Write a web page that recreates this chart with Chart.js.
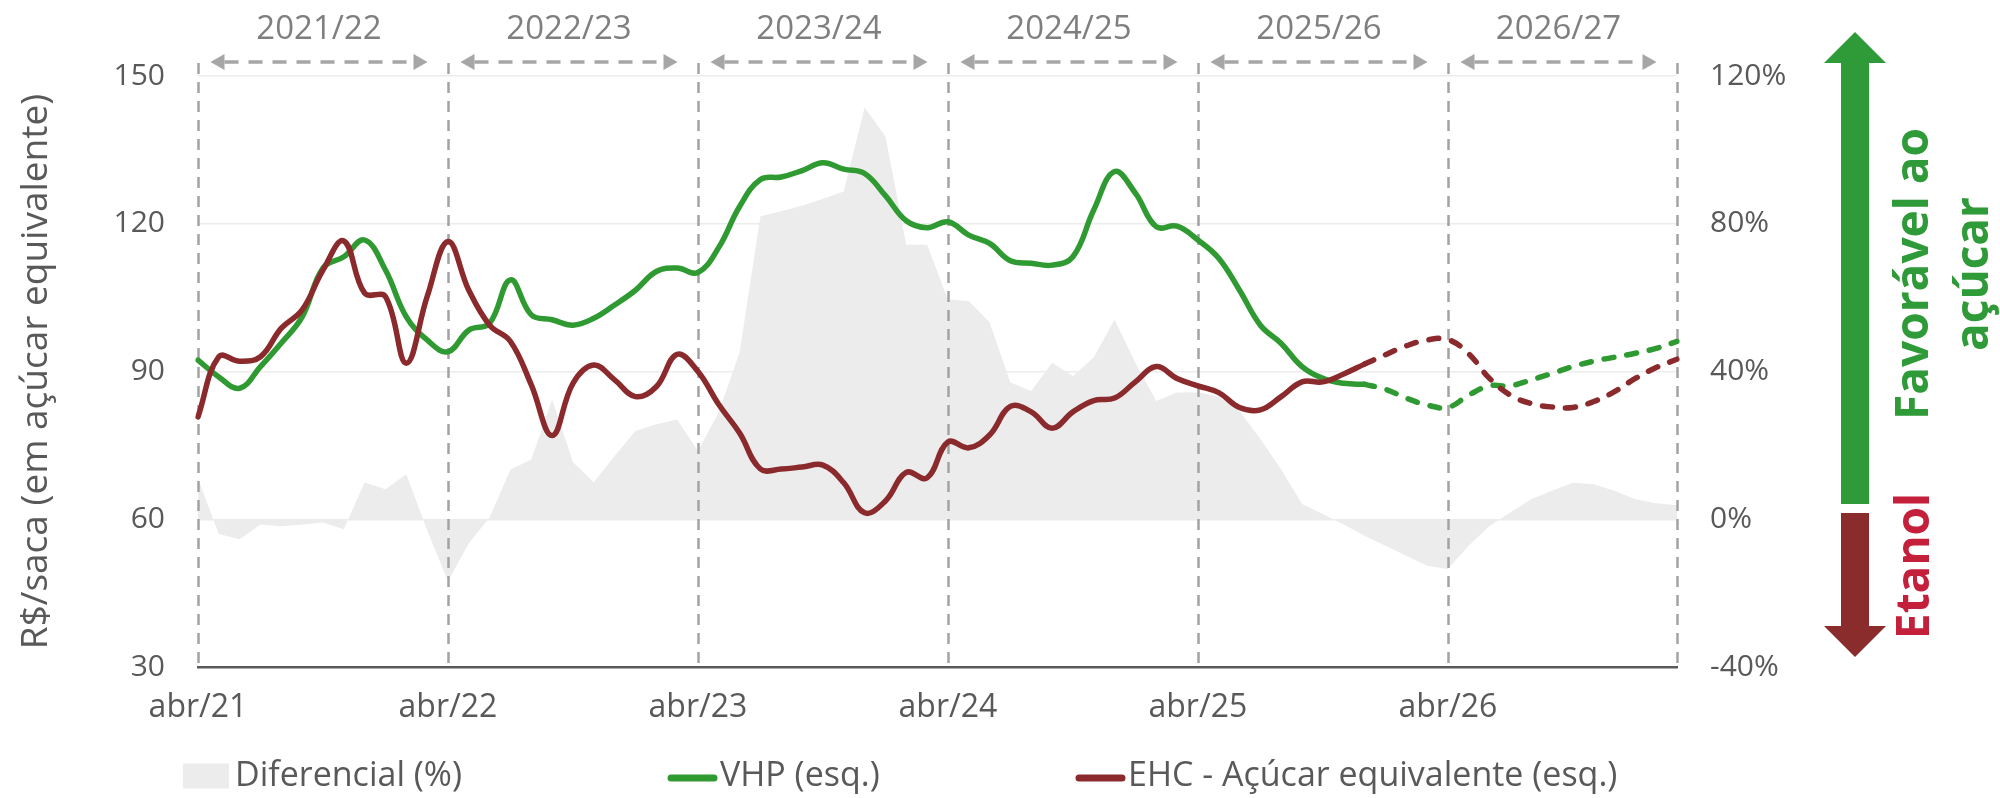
<!DOCTYPE html>
<html lang="pt-BR">
<head>
<meta charset="utf-8">
<title>VHP x EHC - Açúcar equivalente</title>
<script src="https://cdn.jsdelivr.net/npm/chart.js@4.4.1/dist/chart.umd.min.js"></script>
<style>
html,body{margin:0;padding:0;background:#fff;}
#wrap{width:2000px;height:798px;position:relative;}
canvas{display:block;}
</style>
</head>
<body>
<div id="wrap"><canvas id="c" width="2000" height="798"></canvas></div>
<script>
// ---------- data ----------
const xLabels = [
  'abr/21','mai/21','jun/21','jul/21','ago/21','set/21','out/21','nov/21','dez/21','jan/22','fev/22','mar/22',
  'abr/22','mai/22','jun/22','jul/22','ago/22','set/22','out/22','nov/22','dez/22','jan/23','fev/23','mar/23',
  'abr/23','mai/23','jun/23','jul/23','ago/23','set/23','out/23','nov/23','dez/23','jan/24','fev/24','mar/24',
  'abr/24','mai/24','jun/24','jul/24','ago/24','set/24','out/24','nov/24','dez/24','jan/25','fev/25','mar/25',
  'abr/25','mai/25','jun/25','jul/25','ago/25','set/25','out/25','nov/25','dez/25','jan/26','fev/26','mar/26',
  'abr/26','mai/26','jun/26','jul/26','ago/26','set/26','out/26','nov/26','dez/26','jan/27','fev/27','mar/27'
];
const shownTicks = ['abr/21','abr/22','abr/23','abr/24','abr/25','abr/26'];
const leftTicks = [30, 60, 90, 120, 150];
const rightTicks = [-40, 0, 40, 80, 120];
const seasons = ['2021/22','2022/23','2023/24','2024/25','2025/26','2026/27'];
const seasonBounds = ['abr/21','abr/22','abr/23','abr/24','abr/25','abr/26','mar/27'];
const projectionFrom = 'dez/25';

const vhp = [
  92.3, 88.9, 86.6, 91.0, 95.8, 101.1, 111.0, 113.3, 116.7, 110.6, 101.1, 96.4,
  94.0, 98.4, 99.8, 108.6, 101.5, 100.5, 99.4, 100.8, 103.5, 106.5, 110.3, 111.0,
  110.1, 115.2, 123.5, 129.0, 129.5, 130.8, 132.4, 131.1, 130.2, 125.7, 120.6, 119.2,
  120.4, 117.7, 116.0, 112.5, 112.0, 111.6, 113.3, 122.8, 130.6, 126.2, 119.4, 119.5,
  116.7, 113.0, 106.5, 99.4, 95.7, 91.0, 88.6, 87.6, 87.4, 86.4, 84.6, 83.2,
  82.7, 85.2, 87.1, 87.1, 88.3, 89.6, 91.0, 92.1, 92.9, 93.7, 94.7, 96.1
];
const ehc = [
  80.8, 93.0, 92.1, 93.0, 98.8, 102.5, 110.6, 116.5, 105.9, 105.2, 91.7, 105.2,
  116.4, 106.5, 99.4, 96.1, 87.3, 77.0, 87.6, 91.3, 88.3, 84.9, 86.9, 93.5,
  90.0, 83.3, 77.5, 70.2, 70.2, 70.6, 71.0, 67.4, 61.3, 63.7, 69.5, 68.4,
  75.7, 74.5, 77.1, 82.9, 81.8, 78.5, 81.8, 84.1, 84.6, 87.9, 91.0, 88.6,
  87.1, 85.7, 82.7, 82.2, 84.9, 87.9, 87.9, 89.5, 91.5, 93.4, 95.2, 96.4,
  96.5, 93.6, 88.6, 85.2, 83.5, 82.8, 82.7, 83.9, 85.9, 88.6, 90.8, 92.5
];
const diferencial = [
  11.0, -4.0, -5.4, -1.4, -1.9, -1.4, -0.9, -2.7, 10.0, 8.1, 12.2, -3.0,
  -16.8, -6.5, 0.5, 13.5, 16.2, 32.5, 15.4, 10.0, 17.1, 23.9, 25.7, 27.0,
  18.5, 29.0, 45.2, 82.0, 83.4, 84.9, 86.8, 88.7, 111.5, 103.7, 74.3, 74.3,
  59.5, 59.1, 53.3, 37.0, 34.7, 42.4, 38.8, 43.8, 54.1, 42.4, 32.0, 34.3,
  34.4, 33.2, 29.3, 21.7, 13.5, 4.1, 1.4, -1.4, -4.5, -7.2, -9.9, -12.6,
  -13.5, -7.2, -1.8, 1.8, 5.4, 7.7, 9.9, 9.5, 7.7, 5.4, 4.3, 3.8
];

// ---------- styling ----------
const GREEN = '#2f9a32';
const RED = '#8b2a2c';
const AREA = '#ececec';
const TXT = '#595959';
const FONT = "'Open Sans', 'DejaVu Sans', sans-serif";
Chart.defaults.font.family = FONT;
Chart.defaults.color = TXT;

const pIdx = xLabels.indexOf(projectionFrom);
const actual = arr => arr.map((v, i) => (i <= pIdx ? v : null));
const projected = arr => arr.map((v, i) => (i >= pIdx ? v : null));

const lineBase = {
  borderWidth: 5.5, tension: 0.4, pointRadius: 0, pointHoverRadius: 0,
  borderCapStyle: 'round', borderJoinStyle: 'round', fill: false, yAxisID: 'y'
};

// ---------- plugins ----------
const yearLines = {
  id: 'yearLines',
  afterDatasetDraw(chart, args, o) {
    if (args.index !== o.afterIndex) return;
    const { ctx, chartArea, scales: { x } } = chart;
    const px = seasonBounds.map(l => Math.round(x.getPixelForValue(xLabels.indexOf(l))) + 0.5);
    ctx.save();
    ctx.strokeStyle = o.color; ctx.lineWidth = 2.5; ctx.setLineDash([11, 8]);
    px.forEach(p => { ctx.beginPath(); ctx.moveTo(p, o.top); ctx.lineTo(p, chartArea.bottom); ctx.stroke(); });
    seasons.forEach((s, i) => {
      const a = px[i] + 12, b = px[i + 1] - 21, y = o.arrowY;
      ctx.strokeStyle = o.arrowColor; ctx.fillStyle = o.arrowColor;
      ctx.lineWidth = 3.5; ctx.setLineDash([14, 10]);
      ctx.beginPath(); ctx.moveTo(a + 14, y); ctx.lineTo(b - 14, y); ctx.stroke();
      ctx.setLineDash([]);
      ctx.beginPath(); ctx.moveTo(a, y); ctx.lineTo(a + 14, y - 8); ctx.lineTo(a + 14, y + 8); ctx.closePath(); ctx.fill();
      ctx.beginPath(); ctx.moveTo(b, y); ctx.lineTo(b - 14, y - 8); ctx.lineTo(b - 14, y + 8); ctx.closePath(); ctx.fill();
      ctx.fillStyle = o.labelColor; ctx.font = '33px ' + FONT;
      ctx.textAlign = 'center'; ctx.textBaseline = 'middle';
      ctx.fillText(s, (a + b) / 2, o.labelY);
    });
    ctx.restore();
  }
};

const bottomLegend = {
  id: 'bottomLegend',
  afterDraw(chart, args, o) {
    const ctx = chart.ctx;
    ctx.save();
    ctx.font = o.size + 'px ' + FONT;
    ctx.textBaseline = 'middle'; ctx.textAlign = 'left';
    o.items.forEach(it => {
      const ds = chart.data.datasets[it.dataset];
      if (it.icon === 'box') {
        ctx.fillStyle = ds.backgroundColor;
        ctx.fillRect(it.x, o.y - 12.5, 46, 25);
      } else {
        ctx.strokeStyle = ds.borderColor; ctx.lineWidth = 7; ctx.lineCap = 'round';
        ctx.beginPath(); ctx.moveTo(it.x + 3, o.y + 2); ctx.lineTo(it.x + 46, o.y + 2); ctx.stroke();
      }
      ctx.fillStyle = TXT;
      ctx.fillText(ds.label, it.x + 52, o.y);
    });
    ctx.restore();
  }
};

const sideNote = {
  id: 'sideNote',
  afterDraw(chart, args, o) {
    const ctx = chart.ctx;
    ctx.save();
    ctx.fillStyle = o.green;
    ctx.fillRect(1841, 60, 28, 444);
    ctx.beginPath(); ctx.moveTo(1824, 63); ctx.lineTo(1886, 63); ctx.lineTo(1855, 32); ctx.closePath(); ctx.fill();
    ctx.fillStyle = o.red;
    ctx.fillRect(1841, 513, 28, 116);
    ctx.beginPath(); ctx.moveTo(1824, 626); ctx.lineTo(1886, 626); ctx.lineTo(1855, 657); ctx.closePath(); ctx.fill();
    ctx.font = 'bold 46px ' + FONT;
    ctx.textAlign = 'center'; ctx.textBaseline = 'middle';
    const rot = (t, x, y, c) => { ctx.save(); ctx.translate(x, y); ctx.rotate(-Math.PI / 2); ctx.fillStyle = c; ctx.fillText(t, 0, 0); ctx.restore(); };
    rot(o.top1, 1915, 274, o.green);
    rot(o.top2, 1975, 274, o.green);
    rot(o.bottom, 1916, 566, o.textRed);
    ctx.restore();
  }
};

// ---------- chart ----------
new Chart(document.getElementById('c'), {
  type: 'line',
  data: {
    labels: xLabels,
    datasets: [
      Object.assign({}, lineBase, { label: 'VHP (esq.)', data: actual(vhp), borderColor: GREEN, order: 2 }),
      Object.assign({}, lineBase, { label: 'EHC - Açúcar equivalente (esq.)', data: actual(ehc), borderColor: RED, order: 1 }),
      Object.assign({}, lineBase, { label: 'VHP (proj.)', data: projected(vhp), borderColor: GREEN, borderDash: [10, 13], order: 4 }),
      Object.assign({}, lineBase, { label: 'EHC (proj.)', data: projected(ehc), borderColor: RED, borderDash: [10, 13], order: 3 }),
      { label: 'Diferencial (%)', data: diferencial, yAxisID: 'y1', backgroundColor: AREA, borderWidth: 0,
        fill: { value: 0 }, tension: 0, pointRadius: 0, pointHoverRadius: 0, order: 10 }
    ]
  },
  options: {
    responsive: false,
    animation: false,
    devicePixelRatio: 1,
    layout: { padding: { top: 76, left: 0, right: 0, bottom: 0 } },
    plugins: {
      legend: { display: false },
      tooltip: { enabled: false },
      yearLines: { afterIndex: 4, top: 63, color: '#a3a3a3', arrowColor: '#a6a6a6', arrowY: 62, labelY: 30, labelColor: '#7f7f7f' },
      bottomLegend: { y: 776, size: 34, items: [
        { dataset: 4, x: 183, icon: 'box' },
        { dataset: 0, x: 668, icon: 'line' },
        { dataset: 1, x: 1076, icon: 'line' }
      ] },
      sideNote: { green: '#2f9a38', red: '#8b2c2c', textRed: '#c41f3b', top1: 'Favorável ao', top2: 'açúcar', bottom: 'Etanol' }
    },
    scales: {
      x: {
        type: 'category',
        offset: false,
        grid: { display: false, drawTicks: false },
        border: { display: true, color: '#5a5a5a', width: 2.5 },
        ticks: {
          autoSkip: false, maxRotation: 0, minRotation: 0, padding: 22,
          font: { size: 32 }, color: TXT,
          callback: function (v, i) { return shownTicks.includes(xLabels[i]) ? xLabels[i] : ''; }
        },
        afterFit: s => { s.height = 131; }
      },
      y: {
        position: 'left', min: 30, max: 150,
        afterBuildTicks: s => { s.ticks = leftTicks.map(v => ({ value: v })); },
        grid: { color: '#ececec', lineWidth: 1.5, drawTicks: false },
        border: { display: false },
        ticks: { font: { size: 30 }, color: TXT, padding: 33 },
        title: { display: true, text: 'R$/saca (em açúcar equivalente)', font: { size: 37 }, color: TXT, padding: { top: 14, bottom: 0 } },
        afterFit: s => { s.width = 198; }
      },
      y1: {
        position: 'right', min: -40, max: 120,
        afterBuildTicks: s => { s.ticks = rightTicks.map(v => ({ value: v })); },
        grid: { display: false, drawTicks: false },
        border: { display: false },
        ticks: { font: { size: 30 }, color: TXT, padding: 33, callback: v => v + '%' },
        afterFit: s => { s.width = 323; }
      }
    }
  },
  plugins: [yearLines, bottomLegend, sideNote]
});
</script>
</body>
</html>
